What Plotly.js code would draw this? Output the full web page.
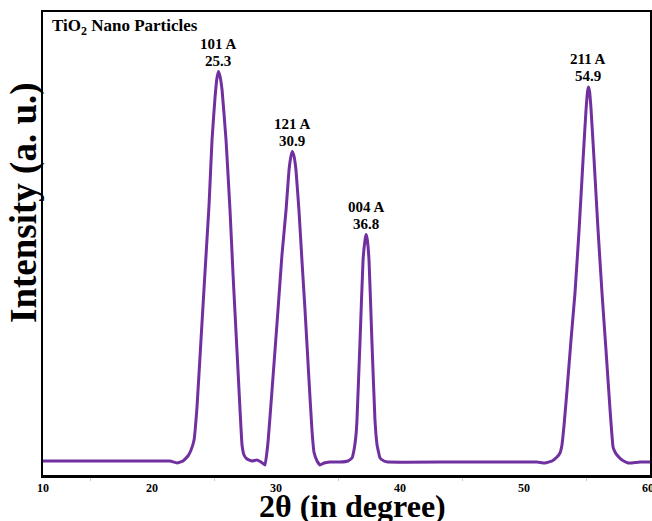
<!DOCTYPE html>
<html>
<head>
<meta charset="utf-8">
<script src="https://cdn.plot.ly/plotly-3.0.1.min.js"></script>
<style>html,body{margin:0;padding:0;background:#fff;}#chart{width:652px;height:521px;}</style>
</head>
<body>
<div id="chart"></div>
<script>
// 2θ (degree) values
const twoTheta = [11.21, 15.81, 19.84, 21.45, 22.02, 22.50, 22.90, 23.15, 23.39, 23.63, 23.95, 24.27, 24.60, 24.84, 25.08, 25.24, 25.36, 25.48, 25.65, 25.97, 26.29, 26.53, 26.85, 27.10, 27.26, 27.42, 27.66, 28.06, 28.47, 28.79, 29.11, 29.35, 29.68, 30.16, 30.48, 30.81, 31.05, 31.21, 31.31, 31.45, 31.61, 31.85, 32.10, 32.34, 32.66, 32.90, 33.06, 33.31, 33.55, 33.87, 34.35, 35.16, 35.81, 36.13, 36.29, 36.45, 36.53, 36.77, 37.02, 37.18, 37.26, 37.34, 37.50, 37.74, 37.98, 38.15, 38.39, 38.71, 39.03, 44.03, 48.06, 51.05, 51.69, 52.26, 52.66, 52.90, 53.06, 53.23, 53.47, 53.79, 54.11, 54.44, 54.76, 55.00, 55.12, 55.19, 55.28, 55.40, 55.65, 55.97, 56.29, 56.61, 56.94, 57.18, 57.34, 57.50, 57.90, 58.39, 58.71, 59.35, 60.16];
// Intensity (a. u.)
const intensity = [14, 14, 14, 14, 12, 14, 19, 25, 35, 68, 135, 202, 270, 335, 377, 397, 403.5, 399, 385, 335, 265, 202, 125, 65, 30, 20, 16, 14, 15, 13, 10, 32, 85, 165, 220, 265, 305, 319, 323.5, 319, 305, 265, 213, 165, 95, 45, 23, 14, 10, 12, 13, 13, 14, 17, 25, 40, 55, 132, 215, 235, 240.5, 237, 215, 132, 55, 30, 17, 14, 13, 13, 13, 13, 12, 14, 18, 22, 30, 50, 85, 135, 182, 245, 315, 365, 383, 388, 384, 367, 315, 245, 182, 125, 65, 28, 23, 20, 15, 12, 12, 13, 13];

const peakPlanes = ["101 A", "121 A", "004 A", "211 A"];
const peakAngles = ["25.3", "30.9", "36.8", "54.9"];

const tickVals = [11.21, 20, 30, 40, 50, 60];
const tickText = ["10", "20", "30", "40", "50", "60"];
const minorTickVals = [15, 25, 35, 45, 55];

const sampleName = "TiO<sub>2</sub> Nano Particles";
const xTitle = "2θ (in degree)";
const yTitle = "Intensity (a. u.)";

const serif = "'Liberation Serif', 'Times New Roman', serif";
const lineColor = "#7030A0";

// find peaks from the data
const peakIdx = [];
for (let i = 1; i < intensity.length - 1; i++) {
  if (intensity[i] > intensity[i - 1] && intensity[i] >= intensity[i + 1] && intensity[i] > 200) peakIdx.push(i);
}

const annotations = [];
peakIdx.forEach((idx, k) => {
  annotations.push({
    x: twoTheta[idx], y: intensity[idx], xref: 'x', yref: 'y',
    text: '<b>' + peakAngles[k] + '</b>',
    showarrow: false, xanchor: 'center', yanchor: 'bottom', yshift: 1,
    font: {family: serif, size: 15, color: '#000'}
  });
  annotations.push({
    x: twoTheta[idx], y: intensity[idx], xref: 'x', yref: 'y',
    text: '<b>' + peakPlanes[k] + '</b>',
    showarrow: false, xanchor: 'center', yanchor: 'bottom', yshift: 18,
    font: {family: serif, size: 15, color: '#000'}
  });
});

annotations.push({
  x: 0.011, y: 0.968, xref: 'paper', yref: 'paper', xanchor: 'left', yanchor: 'middle',
  text: '<b>' + sampleName + '</b>', showarrow: false,
  font: {family: serif, size: 17, color: '#000'}
});

annotations.push({
  x: -0.031, y: 0.588, xref: 'paper', yref: 'paper', xanchor: 'center', yanchor: 'middle',
  text: '<b>' + yTitle + '</b>', textangle: -90, showarrow: false,
  font: {family: serif, size: 37, color: '#000'}
});

annotations.push({
  x: 0.51, y: -0.066, xref: 'paper', yref: 'paper', xanchor: 'center', yanchor: 'middle',
  text: '<b>' + xTitle + '</b>', showarrow: false,
  font: {family: serif, size: 32, color: '#000'}
});

const trace = {
  x: twoTheta, y: intensity, type: 'scatter', mode: 'lines',
  line: {color: lineColor, width: 3, shape: 'spline', smoothing: 0.3},
  hoverinfo: 'skip'
};

const layout = {
  width: 652, height: 521,
  margin: {l: 43, r: 2, t: 12, b: 46},
  paper_bgcolor: '#fff', plot_bgcolor: '#fff',
  showlegend: false,
  xaxis: {
    range: [11.21, 60.16],
    tickmode: 'array', tickvals: tickVals, ticktext: tickText,
    ticks: '', ticklabelstandoff: 0, ticklabeloverflow: 'allow',
    tickfont: {family: serif, size: 12, color: '#000', weight: 'bold'},
    showgrid: false, zeroline: false,
    showline: true, mirror: true, linecolor: '#000', linewidth: 2.5,
    minor: {tickvals: minorTickVals, ticks: 'outside', ticklen: 3, tickcolor: '#c8c8c8', tickwidth: 1, showgrid: false}
  },
  yaxis: {
    range: [0, 463],
    showticklabels: false, ticks: '',
    showgrid: false, zeroline: false,
    showline: true, mirror: true, linecolor: '#000', linewidth: 2.5
  },
  annotations: annotations
};

Plotly.newPlot('chart', [trace], layout, {displayModeBar: false, staticPlot: true});
</script>
</body>
</html>
